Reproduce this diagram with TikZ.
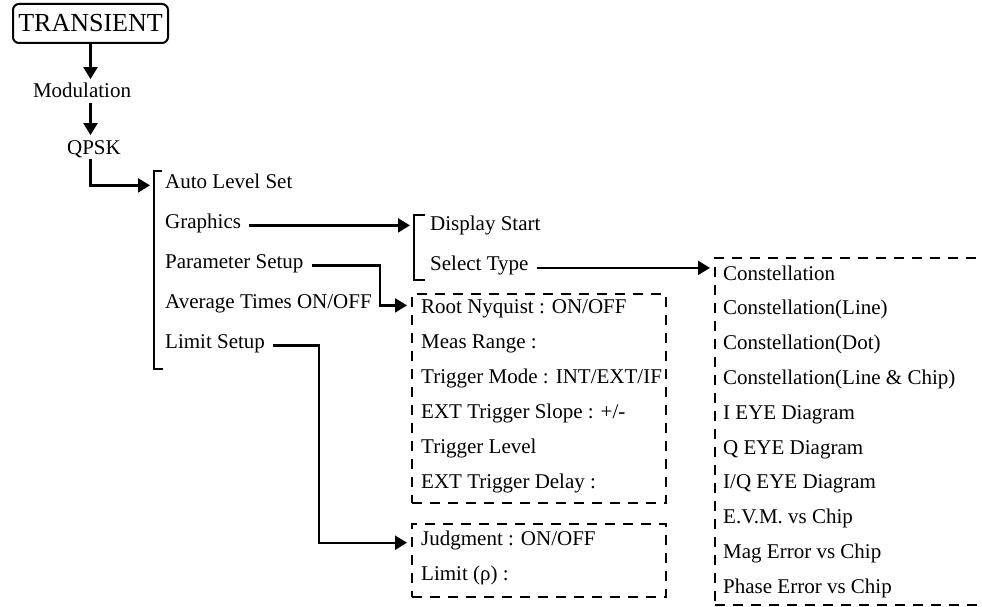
\documentclass[tikz,border=0pt]{standalone}
\usepackage{fontspec}
\setmainfont{Liberation Serif}
\usetikzlibrary{arrows.meta}

\begin{document}
\begin{tikzpicture}[x=1pt, y=-1pt, >={Triangle[length=12pt,width=14pt]},
  item/.style={anchor=base west, inner xsep=8pt, inner ysep=0pt,
    text height=14.7pt, text depth=9.5pt, font=\fontsize{21}{25}\selectfont},
  head/.style={anchor=base, inner sep=0pt, text height=14.7pt,
    text depth=5.2pt, font=\fontsize{21}{25}\selectfont},
  link/.style={->, line width=2.2pt, shorten >=4pt},
  brk/.style={line width=2.2pt},
  dbox/.style={draw, line width=2pt, dash pattern=on 10pt off 8pt,
    anchor=north west, inner sep=0pt}]
  \useasboundingbox (0,0) rectangle (982,607);

  \node[draw, rounded corners=6pt, line width=2pt, minimum width=155pt,
    minimum height=39pt, inner sep=0pt,
    font=\fontsize{26}{30}\selectfont] (trans) at (90.5,23.5) {TRANSIENT};
  \node[head] (mod) at (82,98) {Modulation};
  \node[head] (qpsk) at (94,154) {QPSK};

  % first menu
  \foreach \t [count=\i] in {Auto Level Set, Graphics, Parameter Setup,
      Average Times ON/OFF, Limit Setup}
    \node[item] (m\i) at (157, 148+40*\i) {\t};
  \coordinate (b1t) at (154,171); \coordinate (b1b) at (154,369);
  \draw[brk] (b1t) ++(8,0) -- (b1t) -- (b1b) -- ++(9,0);

  % graphics menu
  \foreach \t [count=\i] in {Display Start, Select Type}
    \node[item] (g\i) at (422, 190.5+40*\i) {\t};
  \coordinate (b2t) at (414,215); \coordinate (b2b) at (414,280);
  \draw[brk] (b2t) ++(11,0) -- (b2t) -- (b2b) -- ++(11,0);

  % parameter setup
  \node[dbox, minimum width=254pt, minimum height=209pt] (pbox) at (411,293) {};
  \foreach \t [count=\i] in {Root Nyquist : ON/OFF, Meas Range :,
      Trigger Mode : INT/EXT/IF, EXT Trigger Slope : +/-, Trigger Level,
      EXT Trigger Delay :}
    \node[item] (p\i) at (413, 278+35*\i) {\t};

  % limit setup
  \node[dbox, minimum width=254pt, minimum height=73pt] (jbox) at (411,523) {};
  \foreach \t [count=\i] in {Judgment : ON/OFF, Limit (ρ) :}
    \node[item] (j\i) at (413, 510+35*\i) {\t};

  % select type
  \node[dbox, minimum width=290pt, minimum height=347pt] (rbox) at (714,257) {};
  \foreach \t [count=\i] in {Constellation, Constellation(Line),
      Constellation(Dot), Constellation(Line \& Chip), I EYE Diagram,
      Q EYE Diagram, I/Q EYE Diagram, E.V.M. vs Chip, Mag Error vs Chip,
      Phase Error vs Chip}
    \node[item] (r\i) at (715, 245.2+34.8*\i) {\t};

  \draw[link] (trans) -- (trans |- mod.north);
  \draw[link] (mod.south -| trans) -- (trans |- qpsk.north);
  \draw[link] (qpsk.south -| trans) |- (b1t |- m1.east);
  \draw[link] (m2.east) -- (m2.east -| b2t);
  \draw[link] (m3.east) -| (m4.east) -- (m4.east -| pbox.west);
  \draw[link] (m5.east) -- ++(46,0) |- (jbox.west |- j1.mid west);
  \draw[link] (g2.east) -- (g2.east -| rbox.west);
\end{tikzpicture}
\end{document}
